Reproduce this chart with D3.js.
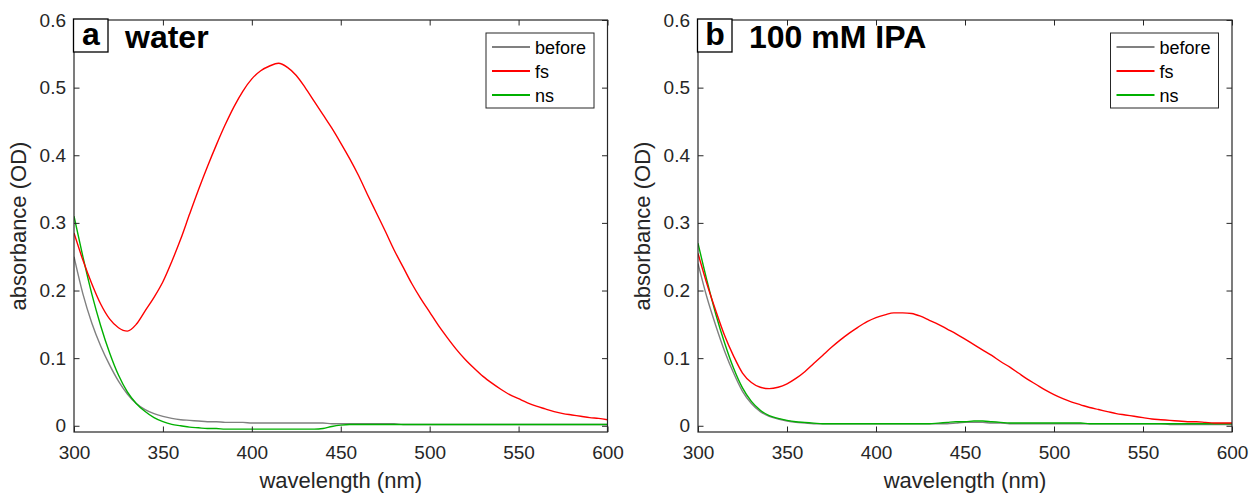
<!DOCTYPE html>
<html>
<head>
<meta charset="utf-8">
<script src="https://cdn.jsdelivr.net/npm/d3@7"></script>
<style>
  html, body { margin: 0; padding: 0; background: #fff; }
  svg { display: block; font-family: "Liberation Sans", Arial, Helvetica, sans-serif; }
</style>
</head>
<body>
<svg id="chart" width="1251" height="493"></svg>
<script>
// wavelength grid (nm)
const wavelength = [300,305,310,315,320,325,330,335,340,345,350,355,360,365,370,375,380,385,390,395,
  400,405,410,415,420,425,430,435,440,445,450,455,460,465,470,475,480,485,490,495,
  500,505,510,515,520,525,530,535,540,545,550,555,560,565,570,575,580,585,590,595,600];

// panel a: water
const waterBefore = [0.250,0.195,0.152,0.118,0.090,0.066,0.047,0.033,0.024,0.018,0.014,0.011,0.009,0.008,0.007,0.006,0.006,0.005,0.005,0.005,
  0.004,0.004,0.004,0.004,0.004,0.004,0.004,0.004,0.004,0.003,0.003,0.003,0.003,0.003,0.003,0.003,0.003,0.002,0.002,0.002,
  0.002,0.002,0.002,0.002,0.002,0.002,0.002,0.002,0.002,0.002,0.002,0.002,0.002,0.002,0.002,0.002,0.002,0.002,0.002,0.002,0.002];
const waterFs = [0.285,0.245,0.210,0.180,0.158,0.145,0.140,0.150,0.170,0.190,0.213,0.243,0.276,0.313,0.349,0.383,0.415,0.445,0.472,0.495,
  0.513,0.525,0.532,0.536,0.530,0.518,0.500,0.480,0.460,0.440,0.418,0.395,0.370,0.342,0.315,0.288,0.260,0.235,0.210,0.188,
  0.168,0.148,0.130,0.113,0.098,0.085,0.073,0.063,0.054,0.046,0.040,0.034,0.029,0.025,0.021,0.018,0.016,0.014,0.012,0.011,0.009];
const waterNs = [0.310,0.250,0.195,0.148,0.108,0.075,0.050,0.033,0.021,0.012,0.006,0.002,0.000,-0.002,-0.003,-0.004,-0.004,-0.005,-0.005,-0.005,
  -0.005,-0.005,-0.005,-0.005,-0.005,-0.005,-0.005,-0.005,-0.004,-0.001,0.001,0.002,0.002,0.002,0.002,0.002,0.002,0.002,0.002,0.002,
  0.002,0.002,0.002,0.002,0.002,0.002,0.002,0.002,0.002,0.002,0.002,0.002,0.002,0.002,0.002,0.002,0.002,0.002,0.002,0.002,0.002];

// panel b: 100 mM IPA
const ipaBefore = [0.240,0.190,0.148,0.110,0.078,0.051,0.033,0.021,0.014,0.010,0.007,0.005,0.004,0.003,0.003,0.003,0.003,0.003,0.003,0.003,
  0.003,0.003,0.003,0.003,0.003,0.003,0.003,0.003,0.003,0.004,0.005,0.005,0.005,0.004,0.004,0.003,0.003,0.003,0.003,0.003,
  0.003,0.003,0.003,0.003,0.003,0.003,0.003,0.003,0.003,0.003,0.003,0.003,0.003,0.002,0.002,0.002,0.002,0.002,0.002,0.002,0.002];
const ipaFs = [0.255,0.210,0.170,0.133,0.103,0.078,0.064,0.057,0.055,0.057,0.062,0.070,0.080,0.092,0.104,0.116,0.127,0.137,0.146,0.154,
  0.160,0.164,0.167,0.167,0.166,0.162,0.156,0.150,0.143,0.136,0.128,0.120,0.112,0.104,0.095,0.087,0.078,0.069,0.061,0.053,
  0.046,0.040,0.035,0.031,0.027,0.024,0.021,0.018,0.016,0.014,0.012,0.010,0.009,0.008,0.007,0.006,0.006,0.005,0.004,0.004,0.004];
const ipaNs = [0.270,0.215,0.165,0.122,0.085,0.056,0.036,0.023,0.015,0.011,0.008,0.006,0.005,0.004,0.003,0.003,0.003,0.003,0.003,0.003,
  0.003,0.003,0.003,0.003,0.003,0.003,0.003,0.004,0.005,0.006,0.006,0.007,0.007,0.006,0.005,0.004,0.004,0.004,0.004,0.004,
  0.004,0.004,0.004,0.004,0.003,0.003,0.003,0.003,0.003,0.003,0.003,0.003,0.003,0.003,0.003,0.003,0.003,0.003,0.003,0.003,0.003];

const xTicks = [300,350,400,450,500,550,600];
const yTicks = [0,0.1,0.2,0.3,0.4,0.5,0.6];
const seriesNames = ["before","fs","ns"];
const seriesColors = ["#808080","#ff0000","#00b000"];
const panelLetters = ["a","b"];
const panelTitles = ["water","100 mM IPA"];

const panels = [
  {left:74, right:607.5, data:[waterBefore, waterFs, waterNs]},
  {left:698, right:1232, data:[ipaBefore, ipaFs, ipaNs]}
];
const plotTop = 20, plotBottom = 432;
const axisColor = "#262626";
const svg = d3.select("#chart");

panels.forEach((p, pi) => {
  const x = d3.scaleLinear().domain([300,600]).range([p.left, p.right]);
  const y = d3.scaleLinear().domain([-0.0092,0.6]).range([plotBottom, plotTop]);
  const g = svg.append("g");
  const tickLen = 5.5;

  const clipId = "clip" + pi;
  svg.append("clipPath").attr("id", clipId).append("rect")
    .attr("x", p.left).attr("y", plotTop).attr("width", p.right - p.left).attr("height", plotBottom - plotTop);
  const line = d3.line().x((d,i) => x(wavelength[i])).y(d => y(d)).curve(d3.curveMonotoneX);
  const order = [0,2,1];
  order.forEach(si => {
    g.append("path").datum(p.data[si])
      .attr("clip-path", `url(#${clipId})`)
      .attr("fill","none").attr("stroke", seriesColors[si]).attr("stroke-width", 1.4)
      .attr("d", line);
  });

  const axB = d3.axisBottom(x).tickValues(xTicks).tickSizeInner(-tickLen).tickSizeOuter(0).tickPadding(14).tickFormat(d3.format("d"));
  const axT = d3.axisTop(x).tickValues(xTicks).tickSizeInner(-tickLen).tickSizeOuter(0).tickFormat("");
  const axL = d3.axisLeft(y).tickValues(yTicks).tickSizeInner(-tickLen).tickSizeOuter(0).tickPadding(8).tickFormat(d => d === 0 ? "0" : d3.format(".1f")(d));
  const axR = d3.axisRight(y).tickValues(yTicks).tickSizeInner(-tickLen).tickSizeOuter(0).tickFormat("");

  const gB = g.append("g").attr("transform", `translate(0,${plotBottom})`).call(axB);
  const gT = g.append("g").attr("transform", `translate(0,${plotTop})`).call(axT);
  const gL = g.append("g").attr("transform", `translate(${p.left},0)`).call(axL);
  const gR = g.append("g").attr("transform", `translate(${p.right},0)`).call(axR);
  [gB,gT,gL,gR].forEach(a => {
    a.select(".domain").remove();
    a.selectAll(".tick line").attr("stroke", axisColor).attr("stroke-width", 1);
    a.selectAll(".tick text").attr("fill", axisColor).style("font-size","19px")
      .style("font-family", '"Liberation Sans", Arial, sans-serif');
  });
  gB.selectAll(".tick text").attr("dy", "0.71em");
  g.append("rect").attr("x", p.left).attr("y", plotTop).attr("width", p.right - p.left).attr("height", plotBottom - plotTop)
    .attr("fill","none").attr("stroke", axisColor).attr("stroke-width", 1.2);

  g.append("text").attr("x", (p.left + p.right)/2).attr("y", 488).attr("text-anchor","middle")
    .attr("fill", axisColor).style("font-size","22px").text("wavelength (nm)");
  g.append("text").attr("transform", `translate(${p.left - 48},${(plotTop+plotBottom)/2}) rotate(-90)`)
    .attr("text-anchor","middle").attr("fill", axisColor).style("font-size","22px").text("absorbance (OD)");

  g.append("rect").attr("x", p.left - 0.5).attr("y", 19).attr("width", 34.5).attr("height", 33)
    .attr("fill","#fff").attr("stroke","#000").attr("stroke-width", 1.3);
  g.append("text").attr("x", p.left + 17).attr("y", 45).attr("text-anchor","middle")
    .style("font-size","32px").style("font-weight","bold").attr("fill","#000").text(panelLetters[pi]);
  g.append("text").attr("x", p.left + 51).attr("y", 48)
    .style("font-size","32px").style("font-weight","bold").attr("fill","#000").text(panelTitles[pi]);

  const lgX = p.right - 121.5, lgY = 33, lgW = 108, lgH = 75;
  const lg = g.append("g");
  lg.append("rect").attr("x", lgX).attr("y", lgY).attr("width", lgW).attr("height", lgH)
    .attr("fill","#fff").attr("stroke", axisColor).attr("stroke-width", 1);
  seriesNames.forEach((name, si) => {
    const cy = 47 + si * 24;
    lg.append("line").attr("x1", lgX + 6).attr("x2", lgX + 44).attr("y1", cy).attr("y2", cy)
      .attr("stroke", seriesColors[si]).attr("stroke-width", 2.2);
    lg.append("text").attr("x", lgX + 49).attr("y", cy + 7)
      .attr("fill", "#000").style("font-size","18px").text(name);
  });
});
</script>
</body>
</html>
